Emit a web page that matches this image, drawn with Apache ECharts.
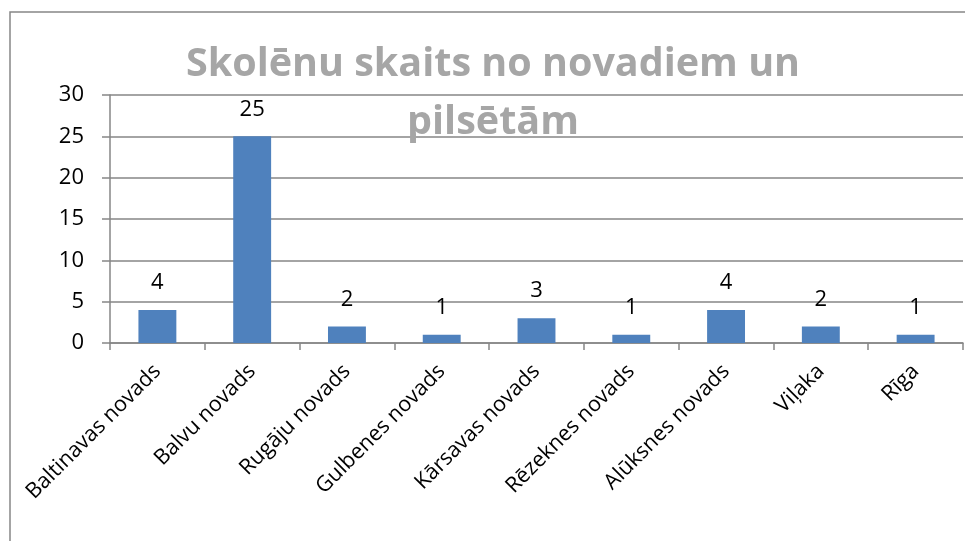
<!DOCTYPE html>
<html>
<head>
<meta charset="utf-8">
<script src="https://cdn.jsdelivr.net/npm/echarts@6/dist/echarts.min.js"></script>
<style>
  html, body { margin: 0; padding: 0; background: #fff; }
  #chart { width: 965px; height: 541px; }
</style>
</head>
<body>
<div id="chart"></div>
<script>
// 数据
const categories = ['Baltinavas novads', 'Balvu novads', 'Rugāju novads', 'Gulbenes novads',
  'Kārsavas novads', 'Rēzeknes novads', 'Alūksnes novads', 'Viļaka', 'Rīga'];
const values = [4, 25, 2, 1, 3, 1, 4, 2, 1];
const titleText = 'Skolēnu skaits no novadiem un\npilsētām';

const fontFamily = '"Open Sans", sans-serif';
const gridColor = '#868686';

const chart = echarts.init(document.getElementById('chart'));

const option = {
  animation: false,
  title: {
    text: titleText,
    left: 488,
    top: 31,
    textAlign: 'center',
    textStyle: {
      color: '#a6a6a6',
      fontFamily: fontFamily,
      fontWeight: 'bold',
      fontSize: 39.5,
      lineHeight: 58
    }
  },
  // 外框
  graphic: [{
    type: 'rect',
    shape: { x: 10, y: 12, width: 1000, height: 600 },
    style: { fill: 'none', stroke: gridColor, lineWidth: 1.5 },
    silent: true,
    z: -10
  }],
  grid: {
    left: 110,
    right: 2,
    top: 95,
    bottom: 198
  },
  xAxis: {
    type: 'category',
    data: categories,
    axisLine: { lineStyle: { color: gridColor, width: 1.5 } },
    axisTick: { show: true, length: 7, lineStyle: { color: gridColor, width: 1.5 } },
    axisLabel: {
      rotate: 45,
      interval: 0,
      margin: 25,
      color: '#000',
      fontFamily: fontFamily,
      fontSize: 21.5
    }
  },
  yAxis: {
    type: 'value',
    min: 0,
    max: 30,
    interval: 5,
    axisLine: { show: true, lineStyle: { color: gridColor, width: 1.5 } },
    axisTick: { show: true, length: 8, lineStyle: { color: gridColor, width: 1.5 } },
    splitLine: { lineStyle: { color: gridColor, width: 1.5 } },
    axisLabel: {
      margin: 26,
      color: '#000',
      fontFamily: fontFamily,
      fontSize: 22
    }
  },
  series: [{
    type: 'bar',
    data: values,
    barWidth: '40%',
    itemStyle: { color: '#4f81bd' },
    label: {
      show: true,
      position: 'top',
      distance: 16,
      color: '#000',
      fontFamily: fontFamily,
      fontSize: 22
    }
  }]
};

chart.setOption(option);
</script>
</body>
</html>
